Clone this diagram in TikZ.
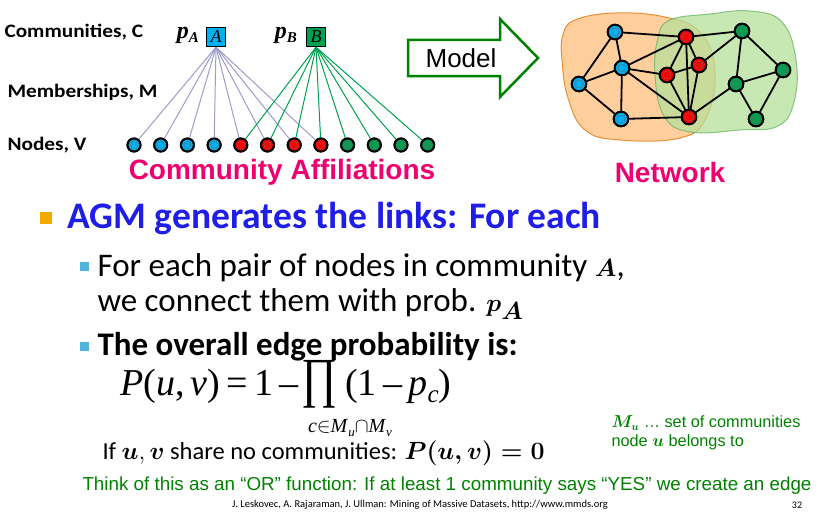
\documentclass[tikz,border=0pt]{standalone}
\usepackage{fontspec}
\setmainfont{Carlito}
\newfontfamily\arial{Liberation Sans}
\newfontfamily\tnr{Liberation Serif}
\usepackage{amsmath}
\usetikzlibrary{calc}
\definecolor{mag}{RGB}{238,0,110}
\definecolor{blu}{RGB}{0,176,240}
\definecolor{gre}{RGB}{0,160,80}
\definecolor{dgreen}{RGB}{0,130,0}
\definecolor{title}{RGB}{30,30,230}
\definecolor{bul}{RGB}{240,170,0}
\definecolor{sbul}{RGB}{80,180,220}
\tikzset{x=1pt,y=-1pt,
 vb/.style={circle,draw=black,line width=2pt,fill=#1,minimum size=13pt,inner sep=0pt,
   path picture={\draw[black!60,line width=0.4pt] (path picture bounding box.center) circle (3.5pt);}},
 nb/.style={circle,draw=black,line width=2pt,fill=#1,minimum size=14.5pt,inner sep=0pt,
   path picture={\draw[black!60,line width=0.4pt] (path picture bounding box.center) circle (4pt);}},
 cbox/.style={draw=black,line width=1.4pt,fill=#1,minimum size=19pt,inner sep=0pt,font=\tnr\itshape\fontsize{18}{20}\selectfont},
 lab/.style={anchor=west,font=\bfseries\fontsize{19}{22}\selectfont},
 ne/.style={line width=1.8pt}}
\begin{document}
\begin{tikzpicture}
\useasboundingbox (0,0) rectangle (824,511);
% labels
\node[lab] (lc) at (1,32) {\scalebox{1.12}[1]{Communities, C}};
\node[lab] (lm) at (4,92) {\scalebox{1.12}[1]{Memberships, M}};
\node[lab] (lv) at (4,145) {\scalebox{1.12}[1]{Nodes, V}};
\node[cbox=blu] (A) at (216,37) {A};
\node[cbox=gre] (B) at (316,37) {B};
\node[font=\tnr\bfseries\itshape\fontsize{24}{26}\selectfont,anchor=east,inner sep=1pt] (pa) at (200,35) {p\raisebox{-4pt}{\fontsize{15}{15}\selectfont A}};
\node[font=\tnr\bfseries\itshape\fontsize{24}{26}\selectfont,anchor=east,inner sep=1pt] (pb) at (298,35) {p\raisebox{-4pt}{\fontsize{15}{15}\selectfont B}};
\foreach \i in {1,...,12}{
  \pgfmathsetmacro\xx{134+(\i-1)*26.7}
  \ifnum\i<5 \def\cc{blu}\else\ifnum\i<9 \def\cc{red}\else\def\cc{gre}\fi\fi
  \node[vb=\cc] (v\i) at (\xx,145) {};
}
\foreach \i in {1,...,8} \draw[gray!70!blue!60,line width=1pt] (A.south) -- (v\i);
\foreach \i in {5,...,12} \draw[gre,line width=1pt] (B.south) -- (v\i);
\foreach \i in {1,...,12}{\ifnum\i<5 \def\cc{blu}\else\ifnum\i<9 \def\cc{red}\else\def\cc{gre}\fi\fi \node[vb=\cc] at (v\i) {};}
\node[font=\arial\bfseries\fontsize{28}{30}\selectfont,text=mag] (ca) at (282,172) {Community Affiliations};
% model arrow
\draw[dgreen,line width=2.5pt,fill=white,line join=miter] (408,40) -- (500,40) -- (500,19) -- (538,58) -- (500,97) -- (500,76) -- (408,76) -- cycle;
\node[font=\arial\fontsize{26}{28}\selectfont] (model) at (461,58) {Model};
% network blobs
\fill[orange!45,draw=orange!60!brown,line width=1pt,opacity=0.85] plot[smooth cycle,tension=0.7] coordinates {(575,20) (615,13) (665,17) (700,32) (715,70) (706,118) (680,138) (620,140) (585,130) (568,98) (562,60) (563,35)};
\fill[green!60!yellow!70!black!40,draw=green!50!black!60,line width=1pt,opacity=0.75] plot[smooth cycle,tension=0.7] coordinates {(670,20) (710,14) (750,11) (782,22) (796,60) (794,102) (778,126) (740,130) (690,132) (664,116) (655,75) (658,38)};
\node[nb=blu] (b1) at (615,32) {};
\node[nb=blu] (b2) at (622,68) {};
\node[nb=blu] (b3) at (579,84) {};
\node[nb=blu] (b4) at (621,119) {};
\node[nb=red] (r1) at (686,37) {};
\node[nb=red] (r2) at (699,65) {};
\node[nb=red] (r3) at (667,75) {};
\node[nb=red] (r4) at (689,117) {};
\node[nb=gre] (g1) at (742,31) {};
\node[nb=gre] (g2) at (783,70) {};
\node[nb=gre] (g3) at (736,84) {};
\node[nb=gre] (g4) at (756,119) {};
\foreach \a/\b in {b1/r1,b1/b2,b1/b3,b2/b3,b2/r1,b2/r3,b2/b4,b2/r4,b3/b4,b4/r4,r1/g1,r1/r3,r1/r2,r1/r4,r3/r2,r3/r4,r2/r4,r2/g1,g1/g3,g1/g2,g2/g3,g2/g4,g3/g4,g3/r4}
  \draw[ne] (\a) -- (\b);
\foreach \n/\c in {b1/blu,b2/blu,b3/blu,b4/blu,r1/red,r2/red,r3/red,r4/red,g1/gre,g2/gre,g3/gre,g4/gre} \node[nb=\c] at (\n) {};
\node[font=\arial\bfseries\fontsize{28}{30}\selectfont,text=mag] (nw) at (670,172) {Network};
% bullets
\fill[bul] (40,212) rectangle (52,224);
\node[anchor=west,font=\bfseries\fontsize{37.5}{40}\selectfont,text=title] (t1) at (64,219) {AGM generates the links: For each};
\fill[sbul] (80,262) rectangle (89,271);
\node[anchor=west,font=\fontsize{33}{36}\selectfont] (t2) at (94,268) {For each pair of nodes in community $\boldsymbol{A}$,};
\node[anchor=west,font=\fontsize{33}{36}\selectfont] (t3) at (94,304) {we connect them with prob. $\boldsymbol{p_A}$};
\fill[sbul] (80,342) rectangle (89,351);
\node[anchor=west,font=\bfseries\fontsize{33}{36}\selectfont] (t4) at (94,347) {The overall edge probability is:};
\node[anchor=west,font=\tnr\fontsize{38}{40}\selectfont,inner sep=0pt] (f1) at (120,386) {\textit{P}(\textit{u},\,\textit{v})\,=\,1\,–};
\node[inner sep=0pt] (prod) at (319,384) {\scalebox{1.15}[1.45]{\tnr\fontsize{38}{40}\selectfont ∏}};
\node[anchor=west,font=\tnr\fontsize{38}{40}\selectfont,inner sep=0pt] (f2) at (345,386) {(1\,–\,\textit{p}\raisebox{-7pt}{\fontsize{25}{25}\selectfont\textit{c}})};
\node[font=\tnr\fontsize{20}{22}\selectfont,inner sep=0pt] (sub) at (350,428) {\textit{c}$\in$\textit{M}\raisebox{-4pt}{\fontsize{13}{13}\selectfont\textit{u}}$\cap$\textit{M}\raisebox{-4pt}{\fontsize{13}{13}\selectfont\textit{v}}};
\node[anchor=west,font=\fontsize{24.5}{26}\selectfont] (t5) at (99,453) {If $\boldsymbol{u},\boldsymbol{v}$ share no communities: $\boldsymbol{P(u,v)=0}$};
\node[anchor=west,font=\arial\fontsize{16.3}{19}\selectfont,text=dgreen,align=left] (note) at (608,433) {$\boldsymbol{M_u}$ \dots\ set of communities\\node $\boldsymbol{u}$ belongs to};
\node[font=\arial\fontsize{18.8}{20}\selectfont,text=dgreen] (or) at (447,486) {Think of this as an “OR” function: If at least 1 community says “YES” we create an edge};
\node[font=\fontsize{10.5}{12}\selectfont] (foot) at (420,505) {J. Leskovec, A. Rajaraman, J. Ullman: Mining of Massive Datasets, http://www.mmds.org};
\node[font=\fontsize{10}{12}\selectfont] (pg) at (797,505) {32};
\end{tikzpicture}
\end{document}
